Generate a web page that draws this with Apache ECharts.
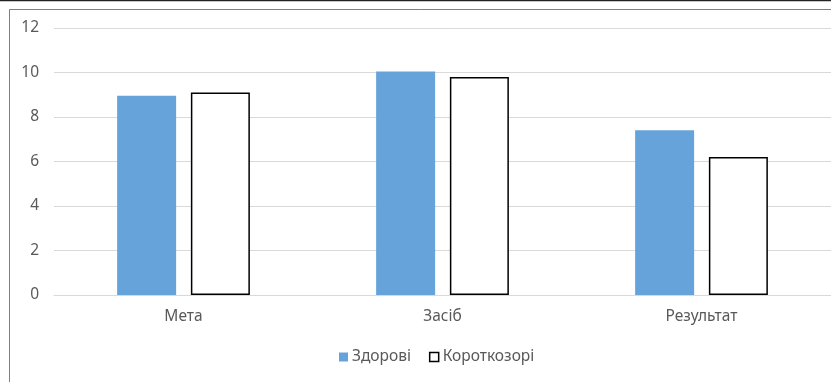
<!DOCTYPE html>
<html><head><meta charset="utf-8">
<script src="https://cdn.jsdelivr.net/npm/echarts@6/dist/echarts.min.js"></script>
<style>html,body{margin:0;padding:0;background:#fff}#c{width:831px;height:382px}</style>
</head><body><div id="c"></div>
<script>
const categories = ['Мета', 'Засіб', 'Результат'];
const healthy = [8.95, 10.05, 7.4];
const myopic = [9.1, 9.8, 6.2];
const seriesNames = ['Здорові', 'Короткозорі'];

const chart = echarts.init(document.getElementById('c'));
const font = '"Noto Sans", "Open Sans", sans-serif';
chart.setOption({
  animation: false,
  textStyle: {fontFamily: font},
  grid: {left: 54, right: -2, top: 28, bottom: 87, containLabel: false},
  xAxis: {
    type: 'category', data: categories,
    axisLine: {lineStyle: {color: '#d9d9d9', width: 1}},
    axisTick: {show: false},
    axisLabel: {color: '#595959', fontSize: 15.5, margin: 14, fontFamily: font}
  },
  yAxis: {
    type: 'value', min: 0, max: 12, interval: 2,
    axisLine: {show: false}, axisTick: {show: false},
    splitLine: {lineStyle: {color: '#d9d9d9', width: 1}},
    axisLabel: {color: '#595959', fontSize: 15.5, margin: 15, fontFamily: font}
  },
  legend: {
    bottom: 12, left: 334, itemWidth: 9, itemHeight: 9, itemGap: 18,
    textStyle: {color: '#595959', fontSize: 15.5, fontFamily: font, padding: [0,0,0,-1]},
    data: [
      {name: seriesNames[0], icon: 'rect'},
      {name: seriesNames[1], icon: 'rect', itemStyle: {color: '#fff', borderColor: '#000', borderWidth: 1.5}}
    ]
  },
  series: [
    {name: seriesNames[0], type: 'bar', data: healthy, barWidth: 59, barGap: '25%',
     itemStyle: {color: '#66a3da'}},
    {name: seriesNames[1], type: 'bar', data: myopic, barWidth: 59,
     itemStyle: {color: '#fff', borderColor: '#000', borderWidth: 1.5}}
  ],
  graphic: [
    {type: 'line', shape: {x1: 0, y1: 0.5, x2: 831, y2: 0.5}, style: {stroke: '#222', lineWidth: 1.5}, silent: true},
    {type: 'polyline', shape: {points: [[9.5, 382], [9.5, 9.5], [831, 9.5]]}, style: {stroke: '#7f7f7f', lineWidth: 1, fill: null}, silent: true}
  ]
});
</script></body></html>
